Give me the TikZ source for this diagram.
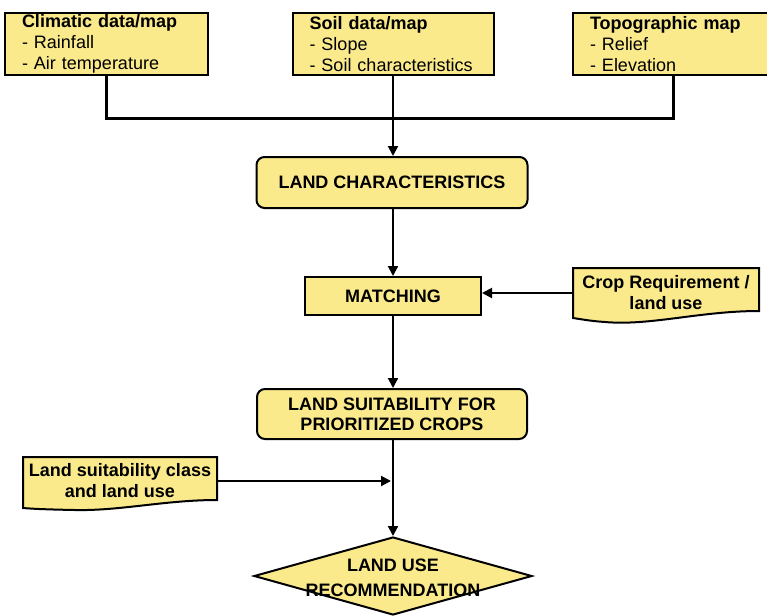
\documentclass[tikz,border=0pt]{standalone}
\usepackage{fontspec}
\setmainfont{Liberation Sans}
\usetikzlibrary{arrows.meta,shapes.geometric}
\definecolor{boxfill}{RGB}{250,234,140}
\tikzset{
  x=0.75pt, y=-0.75pt,
  every node/.style={font=\fontsize{13.5pt}{15.75pt}\selectfont},
  topbox/.style={draw, line width=1.5pt, fill=boxfill, rectangle, inner xsep=12.75pt, inner ysep=0pt,
    minimum height=46.5pt, align=left, font=\fontsize{13.5pt}{15.75pt}\selectfont},
  roundbox/.style={draw, line width=1.5pt, fill=boxfill, rounded corners=6pt, align=center, inner sep=0pt,
    font=\bfseries\fontsize{13.5pt}{15pt}\selectfont},
  plainbox/.style={draw, line width=1.5pt, fill=boxfill, align=center, inner sep=0pt,
    font=\bfseries\fontsize{13.5pt}{15pt}\selectfont},
  wavebox/.style={draw, line width=1.5pt, fill=boxfill},
  wavetext/.style={align=center, inner sep=0pt, font=\bfseries\fontsize{13.5pt}{15.75pt}\selectfont},
  conn/.style={line width=2.25pt, line join=miter},
  arr/.style={line width=1.5pt, -{Triangle[length=7.5pt,width=7.5pt]}},
}
\begin{document}
\begin{tikzpicture}
\useasboundingbox (0,0) rectangle (767,615);

% top input boxes
\node[topbox, text width=126.75pt] (climatic) at (106.5,44)
  {\textbf{Climatic data/map}\\- Rainfall\\- Air temperature};
\node[topbox, text width=125.25pt] (soil) at (393,44)
  {\textbf{Soil data/map}\\- Slope\\- Soil characteristics};
\node[topbox, text width=124.5pt] (topo) at (673,44)
  {\textbf{Topographic map}\\- Relief\\- Elevation};

% central flow
\node[roundbox, minimum width=203.25pt, minimum height=38.25pt] (landchar) at (392,182.5) {LAND CHARACTERISTICS};
\node[plainbox, minimum width=132pt, minimum height=28.5pt] (matching) at (393,296) {MATCHING};
\node[roundbox, minimum width=202.5pt, minimum height=37.5pt] (landsuit) at (392,414) {LAND SUITABILITY FOR\\PRIORITIZED CROPS};
\node[draw, line width=1.5pt, fill=boxfill, diamond, minimum width=208.5pt, minimum height=58.5pt, inner sep=0pt] (rec) at (393,576) {};
\node[align=center, inner sep=0pt, font=\bfseries\fontsize{13.5pt}{18.75pt}\selectfont] (rectext) at (393,578) {LAND USE\\RECOMMENDATION};

% wavy side boxes
\path[wavebox] (573,268) -- (759,268) -- (759,311)
  .. controls (700,311) and (650,326) .. (605,322)
  .. controls (590,321) and (580,319) .. (573,318) -- cycle;
\node[wavetext, minimum width=139.5pt, minimum height=37.5pt] (crop) at (666,293) {Crop Requirement /\\land use};

\path[wavebox] (23,457) -- (217,457) -- (217,500)
  .. controls (165,500) and (120,511) .. (75,510)
  .. controls (50,509.5) and (35,509) .. (23,508) -- cycle;
\node[wavetext, minimum width=145.5pt, minimum height=36pt] (lsc) at (120,481) {Land suitability class\\and land use};

% connectors
\draw[conn] (climatic.south) -- ++(0,42) -| (topo.south);
\draw[arr] (soil.south) -- (soil.south |- landchar.north);
\draw[arr] (landchar.south -| matching.north) -- (matching.north);
\draw[arr] (crop.west) -- (crop.west -| matching.east);
\draw[arr] (matching.south) -- (matching.south |- landsuit.north);
\draw[arr] (landsuit.south -| rec.north) -- (rec.north);
\coordinate (join) at (rec.north |- lsc.east);
\draw[arr] (lsc.east) -- ([xshift=-1.5pt]join);
\end{tikzpicture}
\end{document}
